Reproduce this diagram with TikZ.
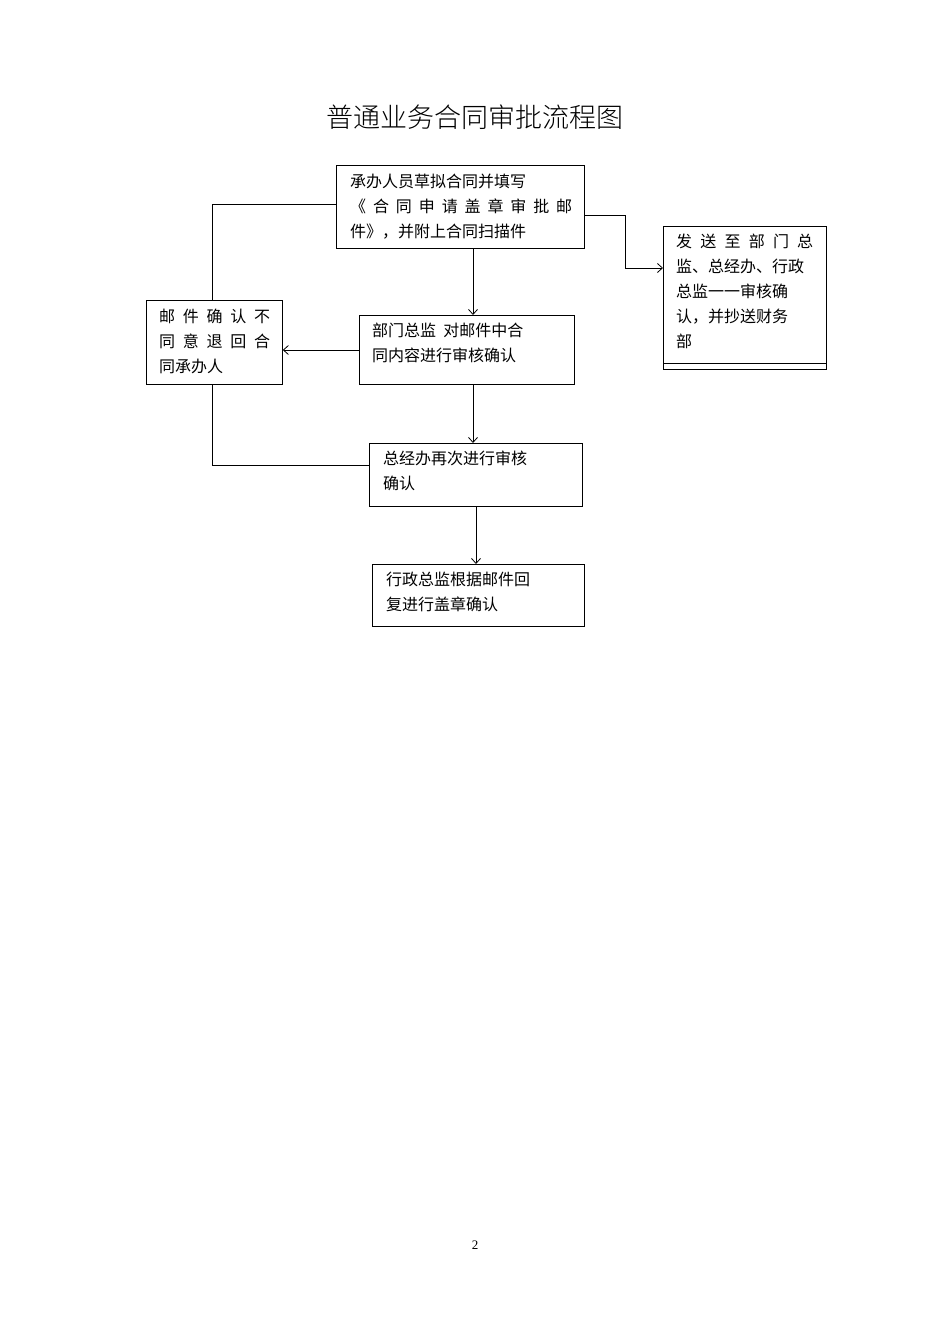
\documentclass[tikz,border=0pt]{standalone}
\usepackage{fontspec}
\setmainfont{Liberation Serif}
\newfontfamily\cjk{Noto Sans CJK SC}[Scale=1]
\newfontfamily\cjkl{Noto Sans CJK SC Light}
\begin{document}
\begin{tikzpicture}[x=1pt,y=-1pt,
  bx/.style={draw,line width=0.8pt},
  tx/.style={anchor=north west,inner sep=0pt,align=left,font=\cjk\fontsize{16}{25}\selectfont},
  ln/.style={line width=0.8pt},
  ar/.style={line width=0.8pt,->,>={Straight Barb[length=5pt,width=9pt]}}]
\useasboundingbox (0,0) rectangle (950,1344);
\usetikzlibrary{arrows.meta}
\node[font=\cjkl\fontsize{27}{30}\selectfont] (title) at (475,117) {普通业务合同审批流程图};
% boxes
\node[bx,minimum width=248,minimum height=83,anchor=north west] (b1) at (336,165) {};
\node[bx,minimum width=163,minimum height=143,anchor=north west] (r) at (663,226) {};
\draw[ln] (663,363) -- (826,363);
\node[bx,minimum width=136,minimum height=84,anchor=north west] (l) at (146,300) {};
\node[bx,minimum width=215,minimum height=69,anchor=north west] (b2) at (359,315) {};
\node[bx,minimum width=213,minimum height=63,anchor=north west] (b3) at (369,443) {};
\node[bx,minimum width=212,minimum height=62,anchor=north west] (b4) at (372,564) {};
% texts
\node[tx] (t1) at (350,174) {承办人员草拟合同并填写\\\makebox[222pt][s]{《\hfill 合\hfill 同\hfill 申\hfill 请\hfill 盖\hfill 章\hfill 审\hfill 批\hfill 邮}\\件》，并附上合同扫描件};
\node[tx] (tr) at (676,234) {\makebox[137pt][s]{发\hfill 送\hfill 至\hfill 部\hfill 门\hfill 总}\\监、总经办、行政\\总监一一审核确\\认，并抄送财务\\部};
\node[tx] (tl) at (159,309) {\makebox[111pt][s]{邮\hfill 件\hfill 确\hfill 认\hfill 不}\\\makebox[111pt][s]{同\hfill 意\hfill 退\hfill 回\hfill 合}\\同承办人};
\node[tx] (t2) at (372,323) {部门总监\ \ 对邮件中合\\同内容进行审核确认};
\node[tx] (t3) at (383,451) {总经办再次进行审核\\确认};
\node[tx] (t4) at (386,572) {行政总监根据邮件回\\复进行盖章确认};
\node[font=\fontsize{13}{13}\selectfont] (pg) at (475,1245) {2};
% connectors
\draw[ar] (b1.east |- 0,215) -- (625,215) -- (625,268) -- (r.west |- 0,268);
\draw[ar] (b1.south -| 473,0) -- (b2.north -| 473,0);
\draw[ln] (b1.west |- 0,204) -- (212,204) -- (l.north -| 212,0);
\draw[ar] (b2.west |- 0,350) -- (l.east |- 0,350);
\draw[ln] (l.south -| 212,0) -- (212,465) -- (b3.west |- 0,465);
\draw[ar] (b2.south -| 473,0) -- (b3.north -| 473,0);
\draw[ar] (b3.south -| 476,0) -- (b4.north -| 476,0);
\end{tikzpicture}
\end{document}
